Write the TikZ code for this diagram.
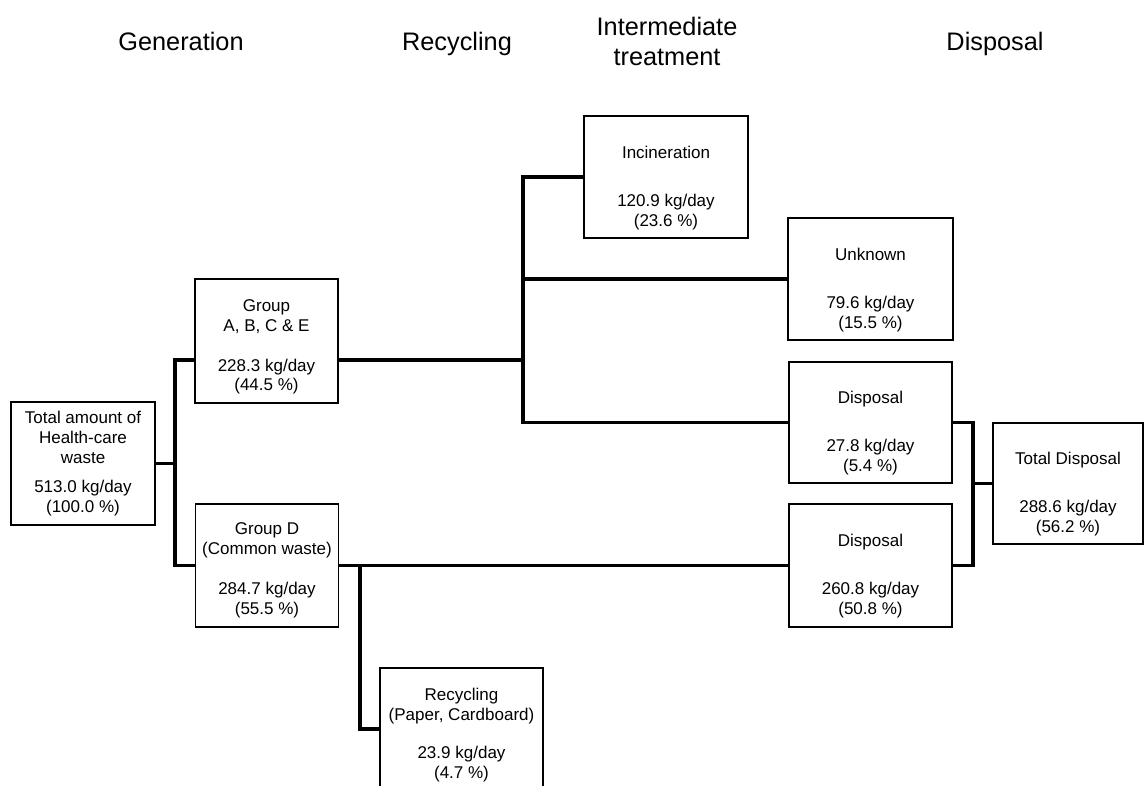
\documentclass[tikz,border=0pt]{standalone}
\usepackage{fontspec}
\setmainfont{Liberation Sans}
\usetikzlibrary{calc}
\newcommand\boxfont{\fontsize{12.1}{14.2}\selectfont}
\newcommand\headfont{\fontsize{18}{21.3}\selectfont}
\newcommand\tsp[1]{\rule{0pt}{#1}} % pushes the text block down in its box
\def\px{0.025cm} % one pixel of the reference
\begin{document}
\begin{tikzpicture}[x=\px, y=-\px, line join=miter,
	box/.style={draw, line width=1pt, inner sep=0pt, align=center, font=\boxfont},
	head/.style={inner sep=0pt, align=center, font=\headfont},
	link/.style={line width=2.5pt}]
	\useasboundingbox (0,0) rectangle (1145,785);
	% column titles
	\node[head, anchor=base] (hdGen) at (181,50) {Generation};
	\node[head, anchor=base] (hdRec) at (457,50) {Recycling};
	\node[head] (hdInt) at (667,41) {Intermediate\\treatment};
	\node[head, anchor=base] (hdDis) at (995,50) {Disposal};
	% boxes
	\node[box, minimum width=144*\px, minimum height=123*\px] (total) at (83,463.5)
		{Total amount of\\Health-care\\waste\\[6pt]513.0 kg/day\\(100.0 \%)};
	\node[box, minimum width=143*\px, minimum height=124*\px] (abce) at (266.5,341)
		{\tsp{16.8pt}Group\\A, B, C \& E\\[14.2pt]228.3 kg/day\\(44.5 \%)};
	\node[box, minimum width=143*\px, minimum height=123*\px] (grpd) at (267,565.5)
		{\tsp{15.4pt}Group D\\(Common waste)\\[14.2pt]284.7 kg/day\\(55.5 \%)};
	\node[box, minimum width=163*\px, minimum height=122*\px] (rec) at (461.5,729)
		{\tsp{16.8pt}Recycling\\(Paper, Cardboard)\\[12.8pt]23.9 kg/day\\(4.7 \%)};
	\node[box, minimum width=164*\px, minimum height=122*\px] (inc) at (666,177)
		{\tsp{23.9pt}Incineration\\[19.9pt]120.9 kg/day\\(23.6 \%)};
	\node[box, minimum width=165*\px, minimum height=122*\px] (unk) at (870.5,279)
		{\tsp{23.9pt}Unknown\\[19.9pt]79.6 kg/day\\(15.5 \%)};
	\node[box, minimum width=163*\px, minimum height=121*\px] (dis1) at (870.5,422.5)
		{\tsp{23.9pt}Disposal\\[19.9pt]27.8 kg/day\\(5.4 \%)};
	\node[box, minimum width=163*\px, minimum height=123*\px] (dis2) at (870.5,565.5)
		{\tsp{23.9pt}Disposal\\[19.9pt]260.8 kg/day\\(50.8 \%)};
	\node[box, minimum width=150*\px, minimum height=121*\px] (totd) at (1068,483.5)
		{\tsp{23.9pt}Total Disposal\\[19.9pt]288.6 kg/day\\(56.2 \%)};
	% junctions
	\coordinate (trunkL) at (175,0);
	\coordinate (trunkM) at (523,0);
	\coordinate (trunkR) at (973,0);
	\coordinate (abceIn) at ($(abce.west)+(0,19)$);
	\coordinate (abceOut) at ($(abce.east)+(0,19)$);
	\coordinate (jD) at ($(grpd.east)+(21,0)$);
	% connectors
	\draw[link] (total.east) -- (total.east -| trunkL);
	\draw[link] (abceIn) -| (trunkL |- grpd.west) -- (grpd.west);
	\draw[link] (abceOut) -- (abceOut -| trunkM);
	\draw[link] (inc.west) -| (trunkM |- dis1.west) -- (dis1.west);
	\draw[link] (trunkM |- unk.west) -- (unk.west);
	\draw[link] (grpd.east) -- (dis2.west);
	\draw[link] (jD) |- (rec.west);
	\draw[link] (dis1.east) -| (trunkR |- dis2.east) -- (dis2.east);
	\draw[link] (trunkR |- totd.west) -- (totd.west);
\end{tikzpicture}
\end{document}
